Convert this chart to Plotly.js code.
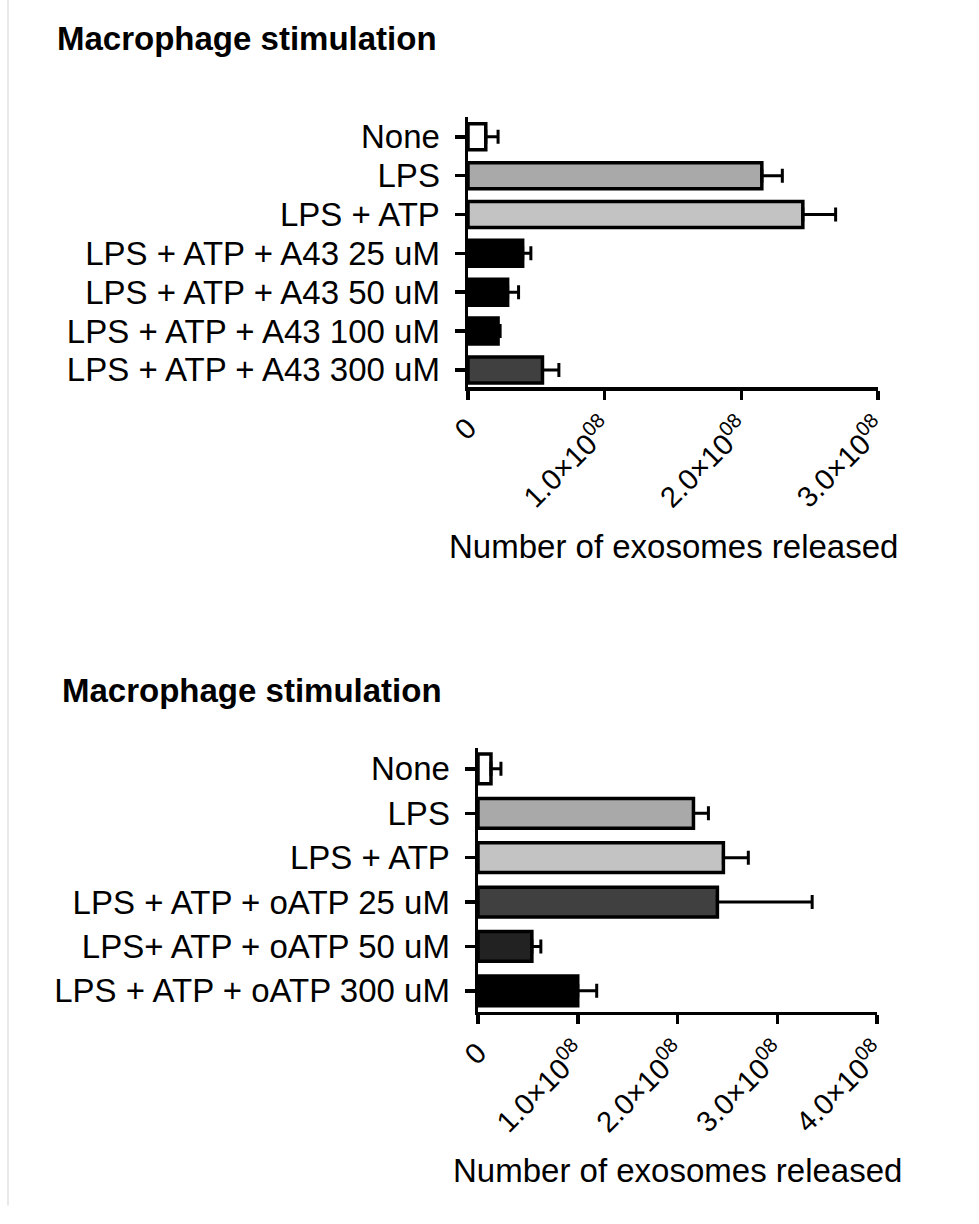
<!DOCTYPE html>
<html>
<head>
<meta charset="utf-8">
<script src="https://cdn.plot.ly/plotly-3.0.1.min.js"></script>
<style>html,body{margin:0;padding:0;background:#fff;}#chart{width:979px;height:1224px;}</style>
</head>
<body>
<div id="chart"></div>
<script>
// ---- Data ----
const chartTitle = "Macrophage stimulation";
const xAxisTitle = "Number of exosomes released";

const catsA = ["None", "LPS", "LPS + ATP", "LPS + ATP + A43 25 uM", "LPS + ATP + A43 50 uM", "LPS + ATP + A43 100 uM", "LPS + ATP + A43 300 uM"];
const valsA = [0.13e8, 2.15e8, 2.45e8, 0.40e8, 0.29e8, 0.22e8, 0.545e8];
const errA  = [0.09e8, 0.15e8, 0.24e8, 0.06e8, 0.08e8, 0.015e8, 0.12e8];
const colorsA = ["#ffffff", "#a9a9a9", "#c3c3c3", "#000000", "#000000", "#000000", "#404040"];
const tickValsA = [0, 1e8, 2e8, 3e8];
const tickTextA = ["0", "1.0×10<sup>08</sup>", "2.0×10<sup>08</sup>", "3.0×10<sup>08</sup>"];

const catsB = ["None", "LPS", "LPS + ATP", "LPS + ATP + oATP 25 uM", "LPS+ ATP + oATP 50 uM", "LPS + ATP + oATP 300 uM"];
const valsB = [0.13e8, 2.16e8, 2.46e8, 2.40e8, 0.54e8, 1.00e8];
const errB  = [0.10e8, 0.15e8, 0.25e8, 0.95e8, 0.09e8, 0.19e8];
const colorsB = ["#ffffff", "#a9a9a9", "#c3c3c3", "#404040", "#222222", "#000000"];
const tickValsB = [0, 1e8, 2e8, 3e8, 4e8];
const tickTextB = ["0", "1.0×10<sup>08</sup>", "2.0×10<sup>08</sup>", "3.0×10<sup>08</sup>", "4.0×10<sup>08</sup>"];

// ---- Plot ----
const W = 979, H = 1224;
const FONT = "Liberation Sans, Arial, sans-serif";
const px = v => v / W;
const py = v => 1 - v / H;

function barTrace(cats, vals, errs, colors, xa, ya) {
  return {
    type: "bar", orientation: "h",
    y: cats, x: vals,
    xaxis: xa, yaxis: ya,
    marker: {color: colors, line: {color: "#000", width: 3.5}},
    error_x: {type: "data", array: errs, arrayminus: errs.map(() => 0), symmetric: false,
              color: "#000", thickness: 3, width: 7},
    hoverinfo: "none", showlegend: false
  };
}

const xCommon = {
  showgrid: false, zeroline: false, showline: true, linecolor: "#000", linewidth: 3.5,
  ticks: "outside", ticklen: 9, tickwidth: 3.5, tickcolor: "#000",
  tickmode: "array", tickangle: -45,
  tickfont: {family: FONT, size: 29, color: "#000"}
};
const yCommon = {
  type: "category", showgrid: false, zeroline: false, showline: true, linecolor: "#000", linewidth: 3.5,
  ticks: "outside", ticklen: 10, tickwidth: 3.5, tickcolor: "#000",
  ticklabelstandoff: 8, tickmode: "array",
  tickfont: {family: FONT, size: 33, color: "#000"}
};

const layout = {
  width: W, height: H,
  margin: {l: 0, r: 0, t: 0, b: 0},
  paper_bgcolor: "#fff", plot_bgcolor: "rgba(0,0,0,0)",
  bargap: 0.33,
  xaxis: Object.assign({}, xCommon, {domain: [px(468), px(878)], range: [0, 3e8], anchor: "y",
    tickvals: tickValsA, ticktext: tickTextA}),
  yaxis: Object.assign({}, yCommon, {domain: [py(387), py(117)], range: [6.44, -0.51], anchor: "x",
    tickvals: catsA, ticktext: catsA}),
  xaxis2: Object.assign({}, xCommon, {domain: [px(478), px(877)], range: [0, 4e8], anchor: "y2",
    tickvals: tickValsB, ticktext: tickTextB}),
  yaxis2: Object.assign({}, yCommon, {domain: [py(1011.7), py(748)], range: [5.47, -0.47], anchor: "x2",
    tickvals: catsB, ticktext: catsB}),
  annotations: [
    {text: "<b>" + chartTitle + "</b>", xref: "paper", yref: "paper", x: px(55), y: py(38),
     xanchor: "left", yanchor: "middle", showarrow: false, font: {family: FONT, size: 33, color: "#000"}},
    {text: "<b>" + chartTitle + "</b>", xref: "paper", yref: "paper", x: px(60), y: py(690),
     xanchor: "left", yanchor: "middle", showarrow: false, font: {family: FONT, size: 33, color: "#000"}},
    {text: xAxisTitle, xref: "paper", yref: "paper", x: px(673), y: py(546),
     xanchor: "center", yanchor: "middle", showarrow: false, font: {family: FONT, size: 33, color: "#000"}},
    {text: xAxisTitle, xref: "paper", yref: "paper", x: px(677), y: py(1170),
     xanchor: "center", yanchor: "middle", showarrow: false, font: {family: FONT, size: 33, color: "#000"}}
  ],
  shapes: [
    {type: "line", xref: "paper", yref: "paper", x0: px(8), x1: px(8), y0: 0.015, y1: 1,
     line: {color: "#e2e2e2", width: 1.5}}
  ]
};

Plotly.newPlot("chart", [
  barTrace(catsA, valsA, errA, colorsA, "x", "y"),
  barTrace(catsB, valsB, errB, colorsB, "x2", "y2")
], layout, {staticPlot: true, displayModeBar: false});
</script>
</body>
</html>
